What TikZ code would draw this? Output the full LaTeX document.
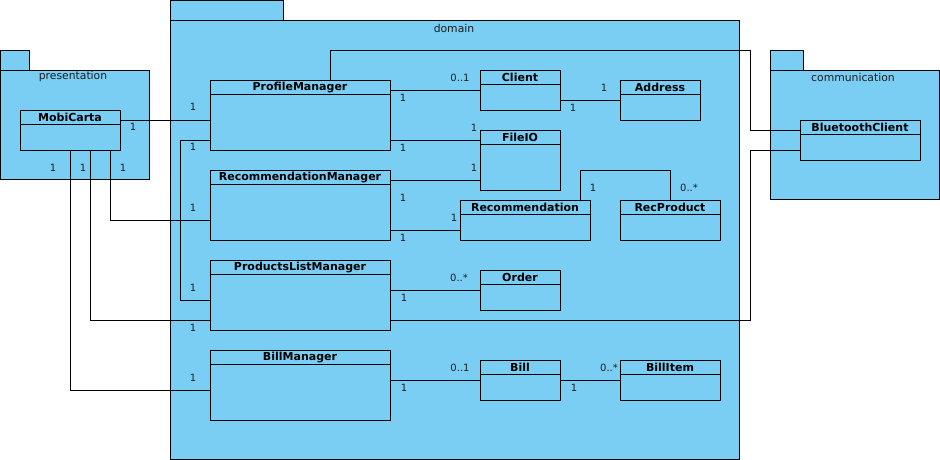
\documentclass[tikz,border=0pt]{standalone}
\usepackage{fontspec}
\setmainfont{DejaVu Sans}
\usepackage{tikz}
\usetikzlibrary{positioning}
\definecolor{umlblue}{RGB}{122,206,244}
\definecolor{umltext}{RGB}{30,30,30}
\tikzstyle{pkg} = [rectangle, draw=black, fill=umlblue, line width=0.9pt, anchor=north west, inner sep=0pt, outer sep=0pt]
\tikzstyle{pkgname} = [font=\fontsize{10.8}{13}\selectfont, text=umltext, inner sep=0pt]
\tikzstyle{umlclass} = [rectangle, draw=black, fill=umlblue, line width=0.9pt, anchor=north west, inner sep=0pt, outer sep=0pt,
  path picture={\draw[line width=0.9pt] ([yshift=-14pt]path picture bounding box.north west) -- ([yshift=-14pt]path picture bounding box.north east);}]
\tikzstyle{classname} = [anchor=north, font=\bfseries\fontsize{11}{13}\selectfont, inner sep=0pt, minimum height=14.5pt]
\tikzstyle{mult} = [font=\fontsize{10}{12}\selectfont, text=umltext, inner sep=0pt]
\tikzstyle{assoc} = [line width=0.9pt, color=black]

\begin{document}
\begin{tikzpicture}[x=1pt, y=-1pt]
\useasboundingbox (0,0) rectangle (940,460);

% packages
\node (prestab) [pkg, minimum width=29pt, minimum height=20pt] at (0,50) {};
\node (pres) [pkg, minimum width=149pt, minimum height=109pt] at (0,70) {};
\node (presname) [pkgname] at (73,77) {presentation};
\node (domtab) [pkg, minimum width=113pt, minimum height=20pt] at (170,0) {};
\node (dom) [pkg, minimum width=569pt, minimum height=439pt] at (170,20) {};
\node (domname) [pkgname] at (454,28) {domain};
\node (comtab) [pkg, minimum width=33pt, minimum height=20pt] at (770,50) {};
\node (com) [pkg, minimum width=169pt, minimum height=129pt] at (770,70) {};
\node (comname) [pkgname] at (853,77) {communication};

% classes
\node (mc) [umlclass, minimum width=100pt, minimum height=40pt] at (20,110) {};
\node (pm) [umlclass, minimum width=180pt, minimum height=70pt] at (210,80) {};
\node (rm) [umlclass, minimum width=180pt, minimum height=70pt] at (210,170) {};
\node (plm) [umlclass, minimum width=180pt, minimum height=70pt] at (210,260) {};
\node (bm) [umlclass, minimum width=180pt, minimum height=70pt] at (210,350) {};
\node (cl) [umlclass, minimum width=80pt, minimum height=40pt] at (480,70) {};
\node (ad) [umlclass, minimum width=80pt, minimum height=40pt] at (620,80) {};
\node (fio) [umlclass, minimum width=80pt, minimum height=60pt] at (480,130) {};
\node (rec) [umlclass, minimum width=130pt, minimum height=40pt] at (460,200) {};
\node (rp) [umlclass, minimum width=100pt, minimum height=40pt] at (620,200) {};
\node (ord) [umlclass, minimum width=80pt, minimum height=40pt] at (480,270) {};
\node (bill) [umlclass, minimum width=80pt, minimum height=40pt] at (480,360) {};
\node (bi) [umlclass, minimum width=100pt, minimum height=40pt] at (620,360) {};
\node (bt) [umlclass, minimum width=120pt, minimum height=40pt] at (800,120) {};

\node (mcname) [classname] at (mc.north) {MobiCarta};
\node (pmname) [classname] at (pm.north) {ProfileManager};
\node (rmname) [classname] at (rm.north) {RecommendationManager};
\node (plmname) [classname] at (plm.north) {ProductsListManager};
\node (bmname) [classname] at (bm.north) {BillManager};
\node (clname) [classname] at (cl.north) {Client};
\node (adname) [classname] at (ad.north) {Address};
\node (fioname) [classname] at (fio.north) {FileIO};
\node (recname) [classname] at (rec.north) {Recommendation};
\node (rpname) [classname] at (rp.north) {RecProduct};
\node (ordname) [classname] at (ord.north) {Order};
\node (billname) [classname] at (bill.north) {Bill};
\node (biname) [classname] at (bi.north) {BillItem};
\node (btname) [classname] at (bt.north) {BluetoothClient};

% associations
\draw[assoc] ([yshift=-10pt]mc.north east) -- ([yshift=-40pt]pm.north west);
\draw[assoc] ([yshift=-60pt]pm.north west) -- ++(-30,0) |- ([yshift=-40pt]plm.north west);
\draw[assoc] ([xshift=90pt]mc.south west) |- ([yshift=-50pt]rm.north west);
\draw[assoc] ([xshift=70pt]mc.south west) |- ([yshift=-60pt]plm.north west);
\draw[assoc] ([xshift=50pt]mc.south west) |- ([yshift=-40pt]bm.north west);
\draw[assoc] ([xshift=120pt]pm.north west) -- ++(0,-30) -- ++(420,0) |- ([yshift=-10pt]bt.north west);
\draw[assoc] ([yshift=-60pt]plm.north east) -- ++(360,0) |- ([yshift=-30pt]bt.north west);
\draw[assoc] ([yshift=-10pt]pm.north east) -- ([yshift=-20pt]cl.north west);
\draw[assoc] ([yshift=-30pt]cl.north east) -- (ad.west);
\draw[assoc] ([yshift=-60pt]pm.north east) -- ([yshift=-10pt]fio.north west);
\draw[assoc] ([yshift=-10pt]rm.north east) -- ([yshift=-50pt]fio.north west);
\draw[assoc] ([yshift=-60pt]rm.north east) -- ([yshift=-30pt]rec.north west);
\draw[assoc] ([xshift=120pt]rec.north west) -- ++(0,-30) -| ([xshift=50pt]rp.north west);
\draw[assoc] ([yshift=-30pt]plm.north east) -- (ord.west);
\draw[assoc] ([yshift=-30pt]bm.north east) -- (bill.west);
\draw[assoc] (bill.east) -- (bi.west);

% multiplicities
\node (m1) [mult] at (133,127) {1};
\node (m2) [mult] at (193,107) {1};
\node (m3) [mult] at (193,147) {1};
\node (m4) [mult] at (193,288) {1};
\node (m5) [mult] at (123,168) {1};
\node (m6) [mult] at (193,208) {1};
\node (m7) [mult] at (83,168) {1};
\node (m8) [mult] at (193,328) {1};
\node (m9) [mult] at (53,168) {1};
\node (m10) [mult] at (193,378) {1};
\node (m11) [mult] at (403,98) {1};
\node (m12) [mult] at (460,78) {0..1};
\node (m13) [mult] at (573,108) {1};
\node (m14) [mult] at (604,88) {1};
\node (m15) [mult] at (403,148) {1};
\node (m16) [mult] at (474,128) {1};
\node (m17) [mult] at (474,168) {1};
\node (m18) [mult] at (403,198) {1};
\node (m19) [mult] at (454,218) {1};
\node (m20) [mult] at (403,238) {1};
\node (m21) [mult] at (593,188) {1};
\node (m22) [mult] at (689,188) {0..*};
\node (m23) [mult] at (404,298) {1};
\node (m24) [mult] at (459,278) {0..*};
\node (m25) [mult] at (404,388) {1};
\node (m26) [mult] at (460,368) {0..1};
\node (m27) [mult] at (574,388) {1};
\node (m28) [mult] at (609,368) {0..*};
\end{tikzpicture}
\end{document}
